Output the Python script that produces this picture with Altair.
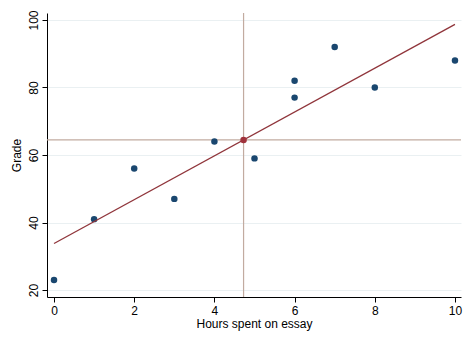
import altair as alt
import pandas as pd

hours = [0, 1, 2, 3, 4, 5, 6, 6, 7, 8, 10]
grade = [23, 41, 56, 47, 64, 59, 82, 77, 92, 80, 88]

df = pd.DataFrame({"hours": hours, "grade": grade})
mean_x = sum(hours) / len(hours)
mean_y = sum(grade) / len(grade)
mean_df = pd.DataFrame({"hours": [mean_x], "grade": [mean_y]})

xs = alt.Scale(domain=[-0.175, 10.15], nice=False, zero=False)
ys = alt.Scale(domain=[17.93, 102.07], nice=False, zero=False)

FONT = "Liberation Sans"

xaxis = alt.Axis(values=[0, 2, 4, 6, 8, 10], title="Hours spent on essay", grid=False,
                 labelFont=FONT, labelFontSize=12, labelColor="#000", titleFont=FONT,
                 titleFontSize=12, titleFontWeight="normal", titleColor="#000",
                 tickColor="#000", domainColor="#000", tickSize=5, labelPadding=3,
                 titlePadding=2, domainWidth=1)
yaxis = alt.Axis(values=[20, 40, 60, 80, 100], title="Grade", grid=True, gridColor="#eaf0f2",
                 gridWidth=1, labelFont=FONT, labelFontSize=12, labelColor="#000",
                 labelAngle=270, labelAlign="center", labelBaseline="bottom",
                 titleFont=FONT, titleFontSize=12, titleFontWeight="normal", titleColor="#000",
                 tickColor="#000", domainColor="#000", tickSize=5, labelPadding=2,
                 titlePadding=4, domainWidth=1)

base = alt.Chart(df)

pts = base.mark_circle(size=42, color="#1a476f", opacity=1).encode(
    x=alt.X("hours:Q", scale=xs, axis=xaxis),
    y=alt.Y("grade:Q", scale=ys, axis=yaxis),
)

MEANC = "#c2aba0"
vline = alt.Chart(mean_df).mark_rule(color=MEANC, strokeWidth=1.2).encode(
    x=alt.X("hours:Q", scale=xs))
hline = alt.Chart(mean_df).mark_rule(color=MEANC, strokeWidth=1.2).encode(
    y=alt.Y("grade:Q", scale=ys))

reg = base.transform_regression("hours", "grade", extent=[0, 10]).mark_line(
    color="#90353b", strokeWidth=1.3).encode(
    x=alt.X("hours:Q", scale=xs),
    y=alt.Y("grade:Q", scale=ys),
)

mpt = alt.Chart(mean_df).mark_circle(size=42, color="#a0323b", opacity=1).encode(
    x=alt.X("hours:Q", scale=xs),
    y=alt.Y("grade:Q", scale=ys),
)

chart = alt.layer(vline, hline, pts, reg, mpt).properties(
    width=414, height=284,
    autosize=alt.AutoSizeParams(type="none"),
    padding={"left": 47, "top": 13, "right": 13, "bottom": 47},
    background="white",
).configure_view(stroke=None)

chart.save("out.html", embed_options={"renderer": "svg", "actions": False})
